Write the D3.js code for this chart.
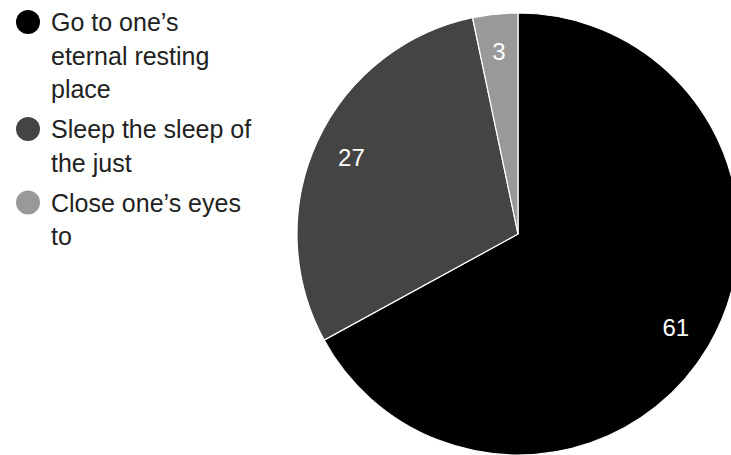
<!DOCTYPE html>
<html>
<head>
<meta charset="utf-8">
<script src="https://cdn.jsdelivr.net/npm/d3@7"></script>
<style>
  html, body { margin: 0; padding: 0; background: #fff; }
  svg { display: block; font-family: "Liberation Sans", Arial, sans-serif; }
</style>
</head>
<body>
<svg id="chart" width="731" height="455"></svg>
<script>
const categories = ["Go to one\u2019s eternal resting place", "Sleep the sleep of the just", "Close one\u2019s eyes to"];
const values = [61, 27, 3];
const colors = ["#000000", "#444444", "#999999"];

const svg = d3.select("#chart");
const W = 731, H = 455;
const cx = 518, cy = 234, R = 221;

const color = d3.scaleOrdinal().domain(categories).range(colors);
const data = categories.map((c, i) => ({ name: c, value: values[i] }));

const pie = d3.pie().value(d => d.value).sort(null);
const arcs = pie(data);
const arc = d3.arc().innerRadius(0).outerRadius(R);
const labelArc = d3.arc().innerRadius(R * 0.83).outerRadius(R * 0.83);

const g = svg.append("g").attr("transform", `translate(${cx},${cy})`);
g.selectAll("path.slice").data(arcs).join("path")
  .attr("class", "slice")
  .attr("d", arc)
  .attr("fill", d => color(d.data.name))
  .attr("stroke", "#ffffff")
  .attr("stroke-width", 1.2);

g.selectAll("text.lbl").data(arcs).join("text")
  .attr("class", "lbl")
  .attr("transform", d => `translate(${labelArc.centroid(d)})`)
  .attr("text-anchor", "middle")
  .attr("dy", "0.36em")
  .attr("fill", "#ffffff")
  .attr("font-size", 24)
  .text(d => d.data.value);

// Legend
const legend = svg.append("g");
const fontSize = 25, lineH = 33.5, itemGap = 40, maxW = 206;
const textX = 51, circleX = 28, circleR = 12;
let baseline = 31;
data.forEach((d, i) => {
  const item = legend.append("g");
  const t = item.append("text")
    .attr("x", textX)
    .attr("font-size", fontSize)
    .attr("fill", "#222222");
  const words = d.name.split(" ");
  let lines = [], cur = [];
  const probe = t.append("tspan");
  words.forEach(w => {
    const test = cur.concat([w]).join(" ");
    probe.text(test);
    if (probe.node().getComputedTextLength() > maxW && cur.length) {
      lines.push(cur.join(" "));
      cur = [w];
    } else {
      cur.push(w);
    }
  });
  if (cur.length) lines.push(cur.join(" "));
  probe.remove();
  lines.forEach((ln, k) => {
    t.append("tspan").attr("x", textX).attr("y", baseline + k * lineH).text(ln);
  });
  item.append("circle")
    .attr("cx", circleX)
    .attr("cy", baseline - 9)
    .attr("r", circleR)
    .attr("fill", color(d.name));
  baseline += (lines.length - 1) * lineH + itemGap;
});
</script>
</body>
</html>
